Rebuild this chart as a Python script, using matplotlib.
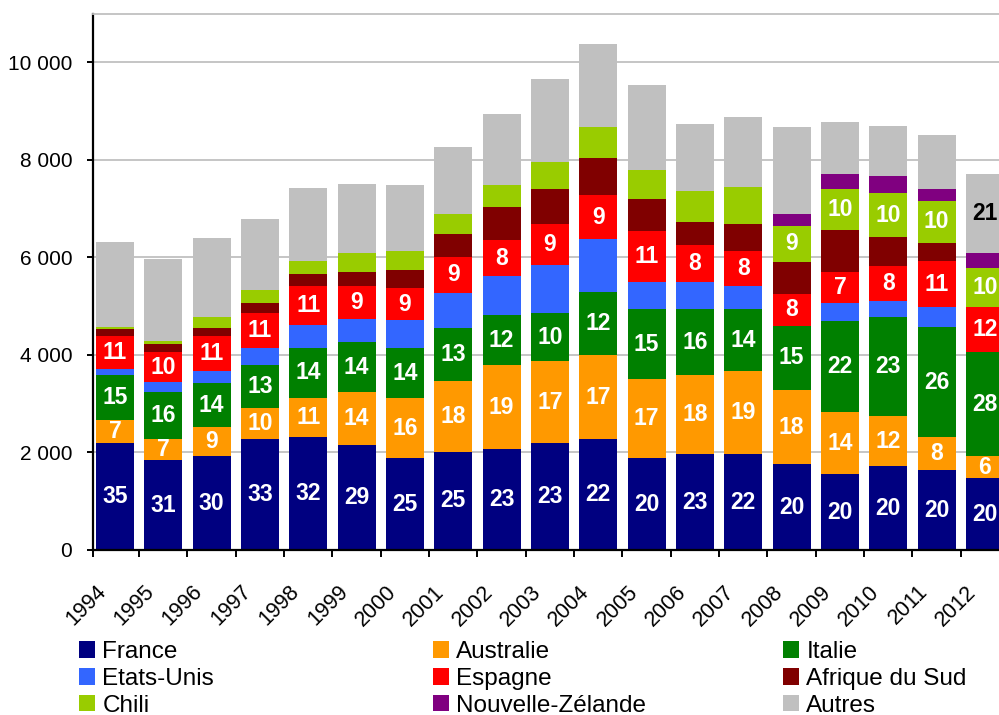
import numpy as np
import matplotlib
matplotlib.use('Agg')
import matplotlib.pyplot as plt
from matplotlib.ticker import FuncFormatter, FixedLocator
from matplotlib.transforms import ScaledTranslation
from matplotlib.patches import Patch

plt.rcParams['font.family'] = ['Liberation Sans', 'DejaVu Sans']

# Years and series (same unit as the y axis)
years = [str(y) for y in range(1994, 2013)]

france      = [2190, 1840, 1920, 2270, 2320, 2150, 1885, 2010, 2065, 2190, 2270, 1885, 1965, 1965, 1760, 1555, 1715, 1635, 1475]
australie   = [470, 435, 600, 640, 800, 1090, 1230, 1450, 1725, 1680, 1720, 1620, 1620, 1700, 1520, 1275, 1025, 680, 445]
italie      = [925, 965, 895, 880, 1025, 1025, 1025, 1095, 1025, 990, 1300, 1435, 1355, 1275, 1320, 1860, 2040, 2260, 2140]
etats_unis  = [130, 205, 250, 350, 470, 475, 570, 720, 800, 985, 1090, 555, 555, 475, 0, 375, 320, 410, 0]
espagne     = [675, 615, 720, 720, 805, 675, 660, 740, 740, 845, 895, 1040, 755, 710, 650, 640, 720, 940, 925]
afrique_sud = [140, 160, 170, 205, 240, 285, 365, 470, 680, 720, 760, 660, 475, 555, 660, 855, 600, 375, 0]
chili       = [45, 75, 225, 265, 265, 390, 390, 410, 445, 555, 645, 595, 630, 760, 735, 845, 900, 860, 800]
nz          = [0, 0, 0, 0, 0, 0, 0, 0, 0, 0, 0, 0, 0, 0, 250, 310, 345, 250, 310]
autres      = [1745, 1670, 1620, 1460, 1500, 1415, 1355, 1380, 1460, 1700, 1695, 1745, 1380, 1450, 1790, 1070, 1025, 1105, 1620]

# share labels (%) written on the segments, None = no label
lab_france    = [35, 31, 30, 33, 32, 29, 25, 25, 23, 23, 22, 20, 23, 22, 20, 20, 20, 20, 20]
lab_australie = [7, 7, 9, 10, 11, 14, 16, 18, 19, 17, 17, 17, 18, 19, 18, 14, 12, 8, 6]
lab_italie    = [15, 16, 14, 13, 14, 14, 14, 13, 12, 10, 12, 15, 16, 14, 15, 22, 23, 26, 28]
lab_espagne   = [11, 10, 11, 11, 11, 9, 9, 9, 8, 9, 9, 11, 8, 8, 8, 7, 8, 11, 12]
lab_chili     = [None] * 14 + [9, 10, 10, 10, 10]
lab_autres    = [None] * 18 + [21]

names = ['France', 'Australie', 'Italie', 'Etats-Unis', 'Espagne',
         'Afrique du Sud', 'Chili', 'Nouvelle-Zélande', 'Autres']
colors = ['#000080', '#FF9900', '#008000', '#3366FF', '#FF0000',
          '#800000', '#99CC00', '#800080', '#C0C0C0']
series = [france, australie, italie, etats_unis, espagne, afrique_sud, chili, nz, autres]
labels = [lab_france, lab_australie, lab_italie, None, lab_espagne, None, lab_chili, None, lab_autres]

fig = plt.figure(figsize=(9.99, 7.15), dpi=100)
ax = fig.add_axes([93 / 999, 0.2308, 1 - 93 / 999, 0.750])

x = np.arange(len(years))
bottom = np.zeros(len(years))
for vals, col, labs in zip(series, colors, labels):
    vals = np.array(vals, dtype=float)
    ax.bar(x, vals, 0.786, bottom=bottom, color=col, zorder=2)
    if labs is not None:
        for i, lab in enumerate(labs):
            if lab is None or vals[i] == 0:
                continue
            tc = 'black' if col == '#C0C0C0' else 'white'
            ax.text(x[i], bottom[i] + vals[i] / 2, str(lab), ha='center', va='center',
                    color=tc, fontsize=16.5, fontweight='bold', zorder=3)
    bottom += vals

ax.set_xlim(-0.455, 18.29)
ax.set_ylim(0, 11000)

# y axis
ax.set_yticks(range(0, 10001, 2000))
ax.yaxis.set_major_formatter(FuncFormatter(lambda v, p: format(int(v), ',').replace(',', ' ')))
ax.tick_params(axis='y', direction='out', length=4, width=1.4, pad=11, labelsize=15)
ax.grid(axis='y', color='#C0C0C0', linewidth=1.3, zorder=0)

# x axis: labels at bar centres, tick marks between bars
ax.set_xticks(x)
ax.set_xticklabels(years, rotation=45, ha='right', va='center', rotation_mode='anchor', fontsize=15.5)
ax.tick_params(axis='x', which='major', length=0, pad=28)
ax.xaxis.set_minor_locator(FixedLocator([-0.455] + list(x[:-1] + 0.5)))
ax.tick_params(axis='x', which='minor', direction='out', length=5, width=1.4)
for t in ax.get_xticklabels():
    t.set_transform(t.get_transform() + ScaledTranslation(-12 / 100, 0, fig.dpi_scale_trans))

for s in ['left', 'bottom']:
    ax.spines[s].set_linewidth(1.6)
ax.spines['right'].set_visible(False)
ax.spines['top'].set_color('#C0C0C0')
ax.spines['top'].set_linewidth(1.3)

# legend in three columns placed by hand
handles = [Patch(facecolor=c, edgecolor='none', label=n) for n, c in zip(names, colors)]
cols = [[0, 3, 6], [1, 4, 7], [2, 5, 8]]
col_x = [79 / 999, 433 / 999, 783 / 999]
for xx, idx in zip(col_x, cols):
    fig.legend(handles=[handles[i] for i in idx], loc='upper left',
               bbox_to_anchor=(xx, 1 - 641 / 715), frameon=False, fontsize=17.5,
               handlelength=0.66, handleheight=0.66, handletextpad=0.3,
               labelspacing=0.2, borderpad=0, borderaxespad=0)

fig.savefig('out.png', dpi=100)
